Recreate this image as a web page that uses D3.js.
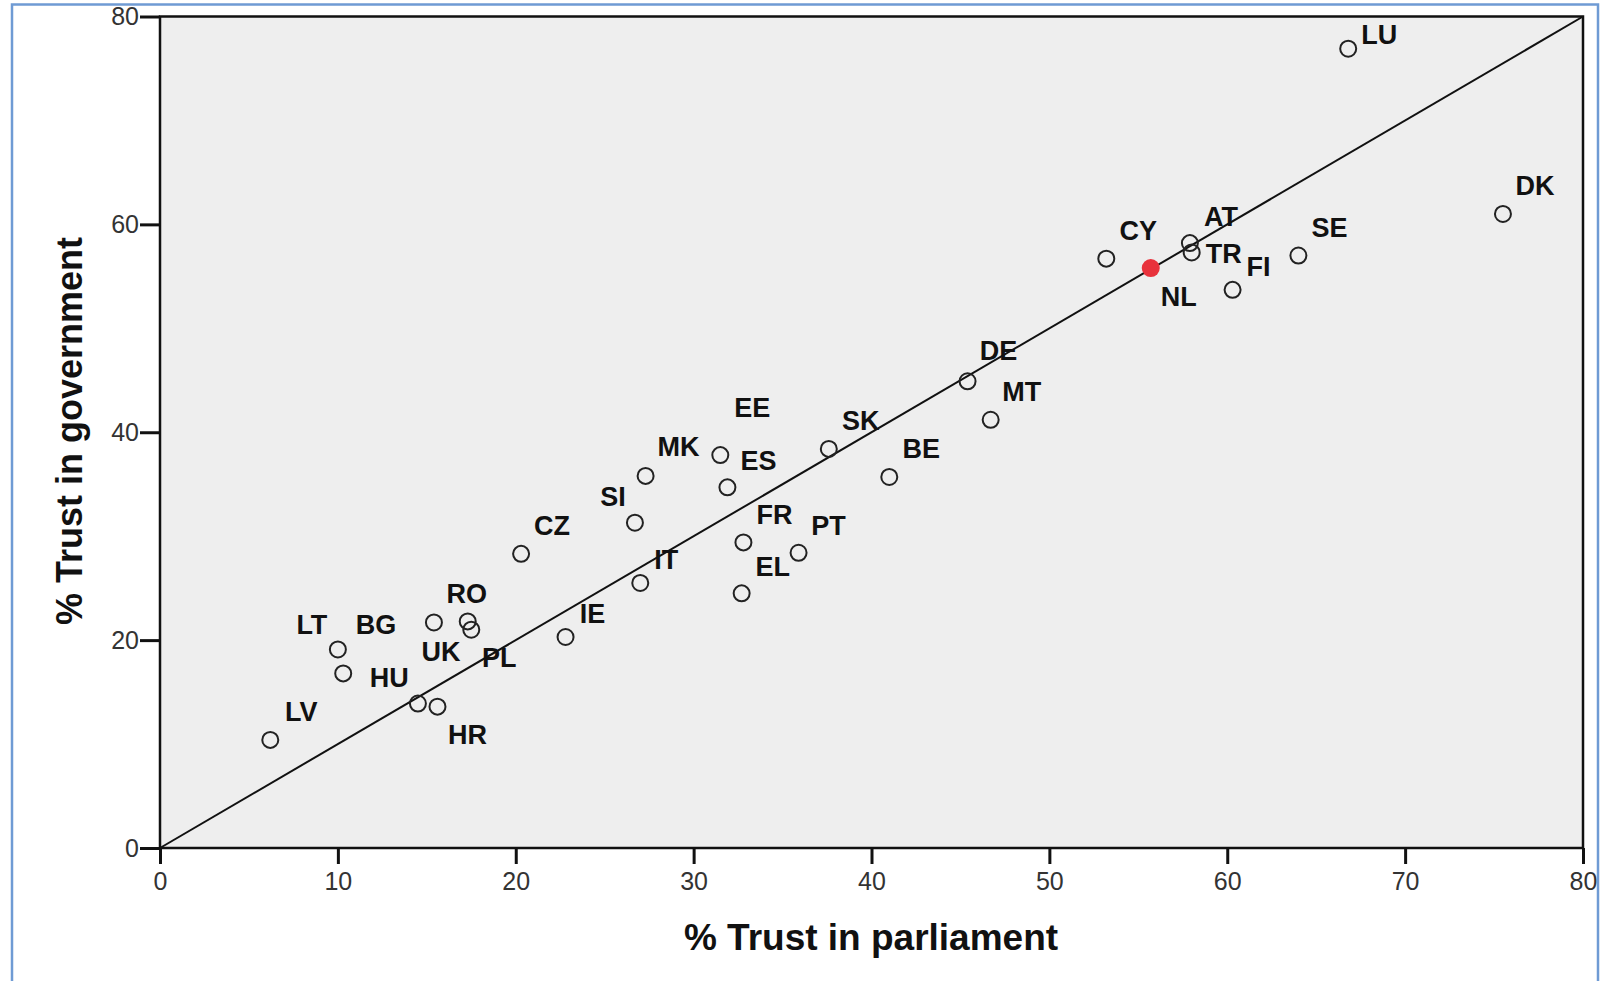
<!DOCTYPE html>
<html>
<head>
<meta charset="utf-8">
<script src="https://cdn.jsdelivr.net/npm/d3@7"></script>
<style>
  body { margin: 0; background: #fff; }
  svg { display: block; font-family: "Liberation Sans", Arial, sans-serif; }
</style>
</head>
<body>
<div id="chart"></div>
<script>
// country codes, trust in parliament (x) and trust in government (y), in %
const countries = ['LU', 'DK', 'CY', 'NL', 'AT', 'TR', 'FI', 'SE', 'DE', 'MT',
  'SK', 'BE', 'EE', 'ES', 'MK', 'SI', 'CZ', 'FR', 'PT', 'IT',
  'EL', 'IE', 'BG', 'RO', 'PL', 'LT', 'HU', 'LV', 'UK', 'HR']
const parliament = [66.8, 75.5, 53.2, 55.7, 57.9, 58.0, 60.3, 64.0, 45.4, 46.7,
  37.6, 41.0, 31.5, 31.9, 27.3, 26.7, 20.3, 32.8, 35.9, 27.0,
  32.7, 22.8, 15.4, 17.3, 17.5, 10.0, 10.3, 6.2, 14.5, 15.6]
const government = [76.9, 61.0, 56.7, 55.8, 58.2, 57.3, 53.7, 57.0, 44.9, 41.2,
  38.4, 35.7, 37.8, 34.7, 35.8, 31.3, 28.3, 29.4, 28.4, 25.5,
  24.5, 20.3, 21.7, 21.8, 21.0, 19.1, 16.8, 10.4, 13.9, 13.6]
const highlighted = 'NL'
const xTicks = [0, 10, 20, 30, 40, 50, 60, 70, 80]
const yTicks = [0, 20, 40, 60, 80]

// where each label sits relative to its point (px), as placed in the original
const labelOffset = {
  LU: [31, -14], DK: [32, -28], CY: [32, -28], NL: [28, 28], AT: [31, -27],
  TR: [32, 1], FI: [26, -23], SE: [31, -28], DE: [31, -31], MT: [31, -28],
  SK: [32, -28], BE: [32, -28], EE: [32, -48], ES: [31, -27], MK: [33, -29],
  SI: [-22, -26], CZ: [31, -28], FR: [31, -28], PT: [30, -27], IT: [26, -23],
  EL: [31, -27], IE: [27, -24], BG: [-58, 2], RO: [-1, -28], PL: [28, 28],
  LT: [-26, -25], HU: [46, 4], LV: [31, -28], UK: [23, -52], HR: [30, 28]
}

const width = 1604
const height = 981
const plot = { left: 160, right: 1583, top: 16.5, bottom: 848 }

const svg = d3.select('#chart')
  .append('svg')
  .attr('width', width)
  .attr('height', height)

// outer frame
svg.append('rect')
  .attr('x', 12)
  .attr('y', 4.5)
  .attr('width', 1586)
  .attr('height', 990)
  .attr('fill', '#fff')
  .attr('stroke', '#6f9bd4')
  .attr('stroke-width', 2.5)

const xs = d3.scaleLinear().domain([0, 80]).range([plot.left, plot.right])
const ys = d3.scaleLinear().domain([0, 80]).range([plot.bottom, plot.top])

svg.append('rect')
  .attr('x', plot.left)
  .attr('y', plot.top)
  .attr('width', plot.right - plot.left)
  .attr('height', plot.bottom - plot.top)
  .attr('fill', '#eeeeee')
  .attr('stroke', '#111')
  .attr('stroke-width', 2.5)

// axes
const xAxis = svg.append('g')
  .attr('transform', `translate(0,${plot.bottom})`)
  .call(d3.axisBottom(xs).tickValues(xTicks).tickSize(16).tickPadding(6))
const yAxis = svg.append('g')
  .attr('transform', `translate(${plot.left},0)`)
  .call(d3.axisLeft(ys).tickValues(yTicks).tickSize(20).tickPadding(1))

;[xAxis, yAxis].forEach((ax) => {
  ax.select('.domain').remove()
  ax.selectAll('.tick line').attr('stroke', '#111').attr('stroke-width', 3)
  ax.selectAll('.tick text')
    .attr('fill', '#333')
    .style('font-size', '25px')
    .style('font-family', '"Liberation Sans", Arial, sans-serif')
})
xAxis.selectAll('.tick text').attr('dy', '0.8em')

// reference diagonal
svg.append('line')
  .attr('x1', xs(0))
  .attr('y1', ys(0))
  .attr('x2', xs(80))
  .attr('y2', ys(80))
  .attr('stroke', '#111')
  .attr('stroke-width', 2)

const points = countries.map((c, i) => ({ code: c, x: parliament[i], y: government[i] }))

svg.selectAll('.pt')
  .data(points)
  .enter()
  .append('circle')
  .attr('class', 'pt')
  .attr('cx', (d) => xs(d.x))
  .attr('cy', (d) => ys(d.y))
  .attr('r', (d) => d.code === highlighted ? 9 : 8)
  .attr('fill', (d) => d.code === highlighted ? '#e8323c' : 'none')
  .attr('stroke', (d) => d.code === highlighted ? 'none' : '#222')
  .attr('stroke-width', 2)

svg.selectAll('.lbl')
  .data(points)
  .enter()
  .append('text')
  .attr('class', 'lbl')
  .attr('x', (d) => xs(d.x) + labelOffset[d.code][0])
  .attr('y', (d) => ys(d.y) + labelOffset[d.code][1] + 9.5)
  .attr('text-anchor', 'middle')
  .style('font-size', '27px')
  .style('font-weight', 'bold')
  .attr('fill', '#111')
  .text((d) => d.code)

// axis titles
svg.append('text')
  .attr('x', (plot.left + plot.right) / 2 - 0.5)
  .attr('y', 950)
  .attr('text-anchor', 'middle')
  .style('font-size', '37px')
  .style('font-weight', 'bold')
  .attr('fill', '#111')
  .text('% Trust in parliament')
svg.append('text')
  .attr('transform', 'translate(82,431) rotate(-90)')
  .attr('text-anchor', 'middle')
  .style('font-size', '36px')
  .style('font-weight', 'bold')
  .attr('fill', '#111')
  .text('% Trust in government')
</script>
</body>
</html>
